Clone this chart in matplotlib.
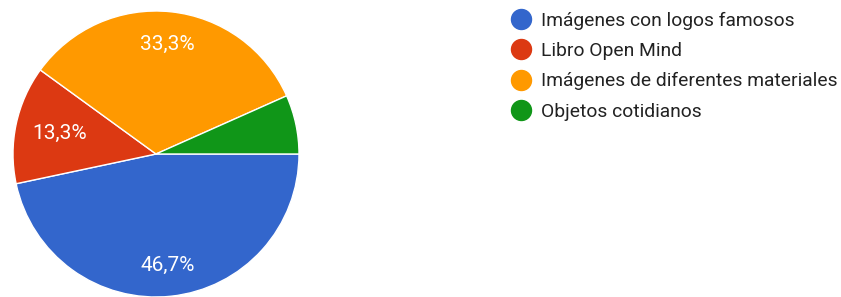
import numpy as np
import matplotlib.pyplot as plt
from matplotlib.lines import Line2D

# Datos
categorias = ["Imágenes con logos famosos", "Libro Open Mind",
              "Imágenes de diferentes materiales", "Objetos cotidianos"]
respuestas = [7, 2, 5, 1]
colores = ["#3366CC", "#DC3912", "#FF9900", "#109618"]
dist_etiqueta = [0.78, 0.69, 0.77, 0.75]

plt.rcParams['font.family'] = ['Roboto', 'DejaVu Sans']

fig = plt.figure(figsize=(8.41, 2.97), dpi=100)
ax = fig.add_axes([13 / 841, 0 / 297, 286 / 841, 286 / 297])

wedges, _ = ax.pie(respuestas, colors=colores, startangle=0, counterclock=False,
                   radius=1, wedgeprops=dict(edgecolor='white', linewidth=1))
ax.set_xlim(-1, 1)
ax.set_ylim(-1, 1)
ax.set_aspect('equal')
ax.axis('off')

total = sum(respuestas)
for w, n, d in zip(wedges, respuestas, dist_etiqueta):
    pct = 100 * n / total
    if pct < 10:
        continue
    ang = np.deg2rad((w.theta1 + w.theta2) / 2)
    ax.text(d * np.cos(ang), d * np.sin(ang), f"{pct:.1f}%".replace('.', ','),
            ha='center', va='center', color='white', fontsize=15)

handles = [Line2D([], [], marker='o', linestyle='None', markersize=14.4,
                  markerfacecolor=c, markeredgecolor=c) for c in colores]
fig.legend(handles, categorias, loc='upper left', bbox_to_anchor=(500 / 841, 1.0),
           frameon=False, fontsize=13.85, handletextpad=0.54, labelspacing=0.64,
           handlelength=1.0, labelcolor='#222222', borderaxespad=0.2)

fig.savefig("out.png", dpi=100)
